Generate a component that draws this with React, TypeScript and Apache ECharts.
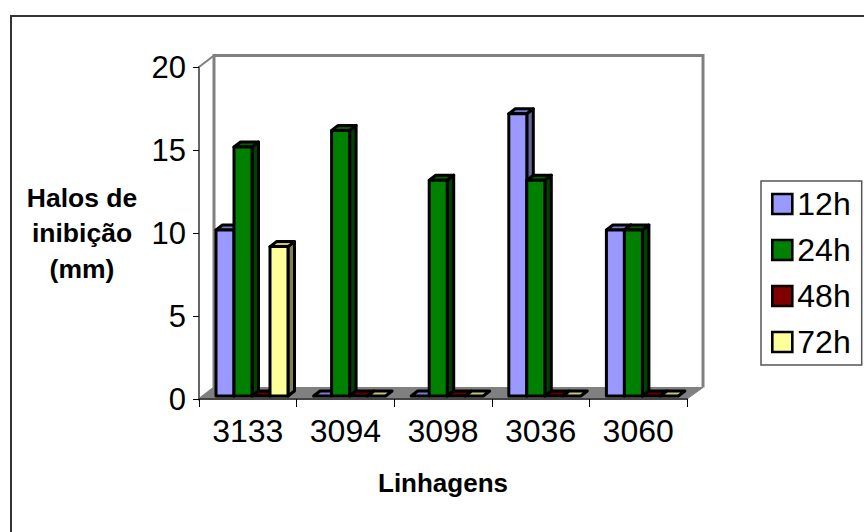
import React, { useEffect, useRef } from "react";
import * as echarts from "echarts";

const categories = ["3133", "3094", "3098", "3036", "3060"];
const seriesNames = ["12h", "24h", "48h", "72h"];
const values12h = [10, 0, 0, 17, 10];
const values24h = [15, 16, 13, 13, 10];
const values48h = [0, 0, 0, 0, 0];
const values72h = [9, 0, 0, 0, 0];
const seriesValues = [values12h, values24h, values48h, values72h];
const frontColors = ["#9999FF", "#008000", "#800000", "#FFFF99"];
const sideColors = ["#666699", "#004000", "#400000", "#808050"];
const topColors = ["#7A7ACC", "#006000", "#600000", "#C4C47A"];

const FONT = "'Liberation Sans', Arial, sans-serif";
const GRID = { left: 199, right: 687, top: 67, bottom: 399 };
const WALL = { dx: 15, dy: 11.5 };
const BAR = { inset: 17, width: 18, liftY: 3, dx: 6.5, dy: 5 };

const bar = (index: number) => (params: any, api: any) => {
  const band = api.size([1, 0])[0];
  const base = api.coord([api.value(0), 0]);
  const top = api.coord([api.value(0), api.value(1)]);
  const x0 = base[0] - band / 2 + BAR.inset + index * BAR.width;
  const x1 = x0 + BAR.width;
  const yb = base[1] - BAR.liftY;
  const yt = top[1] - BAR.liftY;
  const { dx, dy } = BAR;
  const line = { stroke: "#000", lineWidth: 3, lineJoin: "round" };
  const children: any[] = [];
  const solid = yb - yt > 0.5;
  if (solid) {
    children.push({
      type: "polygon",
      shape: { points: [[x1, yt], [x1 + dx, yt - dy], [x1 + dx, yb - dy], [x1, yb]] },
      style: { fill: sideColors[index], ...line },
    });
  }
  children.push({
    type: "polygon",
    shape: { points: [[x0, yt], [x1, yt], [x1 + dx, yt - dy], [x0 + dx, yt - dy]] },
    style: { fill: topColors[index], ...line },
  });
  if (solid) {
    children.push({
      type: "rect",
      shape: { x: x0, y: yt, width: BAR.width, height: yb - yt },
      style: { fill: frontColors[index], ...line },
    });
  }
  return { type: "group", children };
};

export default function App() {
  const ref = useRef<HTMLDivElement>(null);
  useEffect(() => {
    const chart = echarts.init(ref.current!, undefined, { renderer: "svg" });
    const wallLine = { stroke: "#808080", lineWidth: 3 };
    const tl = [GRID.left + WALL.dx, GRID.top - WALL.dy];
    const bl = [GRID.left + WALL.dx, GRID.bottom - WALL.dy];
    const tr = [GRID.right + WALL.dx + 1, GRID.top - WALL.dy];
    const br = [GRID.right + WALL.dx + 1, GRID.bottom - WALL.dy];
    chart.setOption({
      animation: false,
      backgroundColor: "#fff",
      textStyle: { fontFamily: FONT },
      grid: {
        left: GRID.left,
        top: GRID.top,
        width: GRID.right - GRID.left,
        height: GRID.bottom - GRID.top,
      },
      xAxis: {
        type: "category",
        data: categories,
        name: "Linhagens",
        nameLocation: "middle",
        nameGap: 71,
        nameTextStyle: { fontFamily: FONT, fontSize: 26, fontWeight: "bold", color: "#000" },
        axisLine: { show: true, lineStyle: { color: "#444", width: 2 } },
        axisTick: { show: true, length: 8, alignWithLabel: false, lineStyle: { color: "#000", width: 1 } },
        axisLabel: { fontFamily: FONT, fontSize: 32, color: "#000", margin: 16 },
        splitLine: { show: false },
      },
      yAxis: {
        type: "value",
        min: 0,
        max: 20,
        interval: 5,
        name: "Halos de\ninibição\n(mm)",
        nameLocation: "middle",
        nameRotate: 0,
        nameGap: 117,
        nameTextStyle: {
          fontFamily: FONT,
          fontSize: 26.5,
          fontWeight: "bold",
          color: "#000",
          align: "center",
          verticalAlign: "middle",
          lineHeight: 35.5,
        },
        axisLine: { show: true, lineStyle: { color: "#666", width: 2 } },
        axisTick: { show: true, length: 6, lineStyle: { color: "#000", width: 1 } },
        axisLabel: { fontFamily: FONT, fontSize: 31, color: "#000", margin: 13 },
        splitLine: { show: false },
      },
      legend: {
        show: true,
        orient: "vertical",
        left: 761,
        top: 181,
        padding: [7, 11, 7, 10],
        itemWidth: 20,
        itemHeight: 20,
        itemGap: 14,
        icon: "rect",
        selectedMode: false,
        borderColor: "#555",
        borderWidth: 1.5,
        itemStyle: { borderColor: "#000", borderWidth: 2.6 },
        textStyle: { fontFamily: FONT, fontSize: 32, color: "#000" },
        data: seriesNames,
      },
      graphic: [
        {
          type: "polyline",
          shape: { points: [[11, 532], [11, 16], [864, 16]] },
          style: { stroke: "#333", lineWidth: 2, fill: "none" },
          silent: true,
        },
        {
          type: "polygon",
          shape: { points: [[GRID.left, GRID.top], tl, bl, [GRID.left, GRID.bottom]] },
          style: { fill: "#fff", stroke: "#808080", lineWidth: 2 },
          silent: true,
        },
        {
          type: "polyline",
          shape: { points: [bl, tl, tr, br] },
          style: { fill: "none", ...wallLine },
          silent: true,
        },
        {
          type: "polygon",
          shape: { points: [[GRID.left, GRID.bottom], bl, br, [GRID.right, GRID.bottom]] },
          style: { fill: "#808080", stroke: "#808080", lineWidth: 1 },
          silent: true,
        },
      ],
      series: seriesNames.map((name, i) => ({
        type: "custom",
        name,
        z: 5,
        itemStyle: { color: frontColors[i] },
        encode: { x: 0, y: 1 },
        data: categories.map((_, c) => [c, seriesValues[i][c]]),
        renderItem: bar(i),
      })),
    });
    return () => chart.dispose();
  }, []);
  return (
    <div
      ref={ref}
      style={{ position: "absolute", left: 0, top: 0, width: 864, height: 532 }}
    />
  );
}
